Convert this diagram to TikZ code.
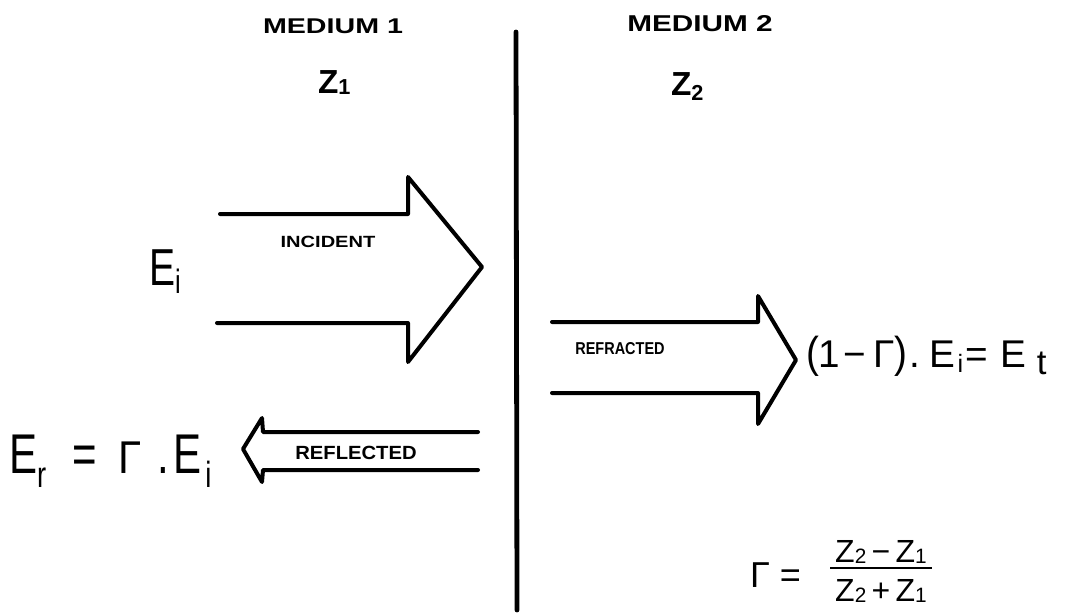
\documentclass[tikz,border=0pt]{standalone}
\usepackage{fontspec}
\setmainfont{Liberation Sans}
\newfontfamily\handnarrow[FakeStretch=0.75]{Liberation Sans}
\usepackage{graphicx}
\newcommand\lo[2][0.3em]{\raisebox{-#1}{\scalebox{0.65}{#2}}}
\newcommand\capsfit[3]{\resizebox{#1}{#2}{\bfseries #3}}
\begin{document}
\begin{tikzpicture}[x=0.75pt,y=-0.75pt,
  arrowline/.style={line width=3pt, line join=round, line cap=round},
  wall/.style={line width=3.6pt, line cap=round},
  lbl/.style={inner sep=0pt, outer sep=0pt},
  formula/.style={inner sep=0pt, outer sep=0pt, anchor=base west}]
\useasboundingbox[fill=white] (0,0) rectangle (1092,615);

% interface
\coordinate (vtop) at (516,32);
\coordinate (vbot) at (517,610);
\draw[wall] (vtop) -- (vbot);

% headings
\node[lbl] (m1) at (333,26) {\capsfit{105pt}{11pt}{MEDIUM 1}};
\node[lbl] (m2) at (700,24) {\capsfit{109pt}{12pt}{MEDIUM 2}};
\node[formula] (z1) at (318,93) {\fontsize{25}{25}\selectfont\bfseries Z\lo[0.05em]{1}};
\node[formula] (z2) at (671,95) {\fontsize{25}{25}\selectfont\bfseries Z\lo[0.15em]{2}};

% incident arrow
\draw[arrowline] (220,214) -- (408,214) -- (408,177) -- (482,267) -- (408,362) -- (408,323) -- (217,323);
\node[lbl] (inc) at (328,242) {\capsfit{71pt}{8.5pt}{INCIDENT}};
\node[formula] (ei) at (149,285) {\handnarrow\fontsize{39}{39}\selectfont E\lo[0.16em]{i}};

% refracted arrow
\draw[arrowline] (552,322) -- (758,322) -- (758,296) -- (796,360) -- (758,424) -- (758,393) -- (552,393);
\node[lbl] (refr) at (620,349) {\capsfit{67pt}{9pt}{REFRACTED}};
\node[formula] (et) at (806,367) {\fontsize{29}{29}\selectfont
  \scalebox{1}[1.12]{(}1\hspace{2pt}−\hspace{6pt}Γ\scalebox{1}[1.12]{)}\hspace{1pt}.\hspace{7pt}E\hspace{2pt}\lo[0.15em]{i}\hspace{2pt}=\hspace{9pt}E\hspace{8pt}\raisebox{-0.2em}{\scalebox{0.9}{t}}};

% reflected arrow
\draw[arrowline] (478,432) -- (263,432) -- (262,418) -- (243,449) -- (262,482) -- (263,470) -- (478,470);
\node[lbl] (refl) at (356,453) {\capsfit{91pt}{10pt}{REFLECTED}};
\node[formula] (er) at (9,473) {\handnarrow\fontsize{42}{42}\selectfont
  E\lo[0.25em]{r}\hspace{20pt}=\hspace{16pt}\scalebox{1}[0.82]{Γ}\hspace{12pt}.\hspace{3pt}E\hspace{3pt}\lo[0.25em]{i}};

% reflection coefficient
\node[formula] (gam) at (750,587) {\fontsize{27}{27}\selectfont Γ =};
\node[lbl] (num) at (881,552) {\fontsize{24}{24}\selectfont Z\lo[0.05em]{2}\,−\,Z\lo[0.05em]{1}};
\node[lbl] (den) at (881,591) {\fontsize{24}{24}\selectfont Z\lo[0.05em]{2}\,+\,Z\lo[0.05em]{1}};
\coordinate (barL) at (830,568);
\coordinate (barR) at (932,568);
\draw[line width=2.2pt] (barL) -- (barR);
\end{tikzpicture}
\end{document}
